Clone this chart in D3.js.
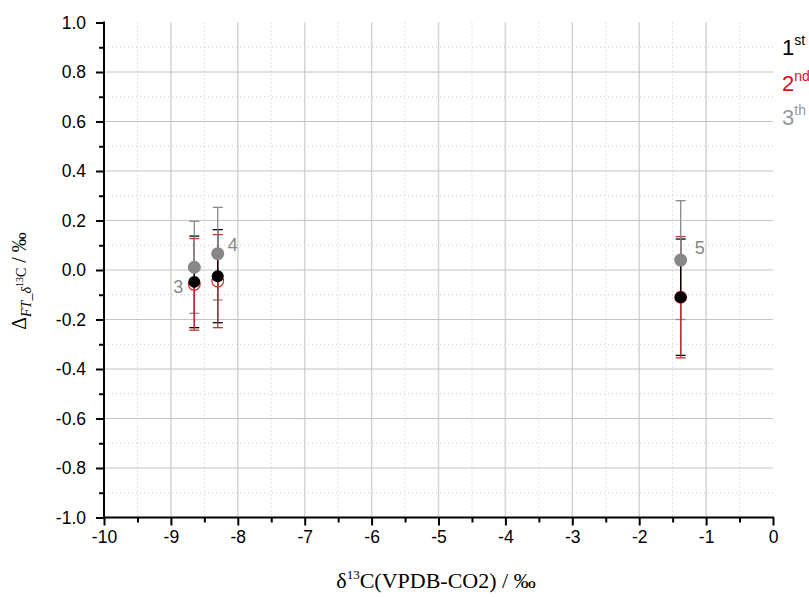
<!DOCTYPE html>
<html><head><meta charset="utf-8">
<script src="https://cdn.jsdelivr.net/npm/d3@7"></script>
<style>body{margin:0;background:#fff}svg{display:block}</style>
</head><body>
<svg id="c" width="809" height="597"></svg>
<script>
// ---- data ----
const pointLabels = ["3", "4", "5"];
const xVals = [-8.65, -8.30, -1.38];
const seriesNames = ["1", "2", "3"];
const seriesSups = ["st", "nd", "th"];
const s1 = [-0.048, -0.025, -0.11];
const e1 = [0.185, 0.188, 0.235];
const s2 = [-0.058, -0.045, -0.11];
const e2 = [0.185, 0.188, 0.245];
const s3 = [0.011, 0.066, 0.04];
const e3 = [0.186, 0.187, 0.24];
const xTicks = [-10, -9, -8, -7, -6, -5, -4, -3, -2, -1, 0];
const yTicks = [-1.0, -0.8, -0.6, -0.4, -0.2, 0.0, 0.2, 0.4, 0.6, 0.8, 1.0];

const W = 809, H = 597;
const L = 104, R = 773, T = 22.5, B = 517.5;
const svg = d3.select("#c");
const x = d3.scaleLinear().domain([-10, 0]).range([L, R]);
const y = d3.scaleLinear().domain([-1, 1]).range([B, T]);

const xMinor = d3.range(-9.5, 0, 1);
const yMinor = d3.range(-0.9, 1.0, 0.2).map(v => +v.toFixed(2));

// grid
const g = svg.append("g");
g.selectAll(".vmin").data(xMinor).join("line")
  .attr("x1", d => x(d)).attr("x2", d => x(d)).attr("y1", T).attr("y2", B)
  .attr("stroke", "#c8c8c8").attr("stroke-width", 1).attr("stroke-dasharray", "1,3");
g.selectAll(".hmin").data(yMinor).join("line")
  .attr("y1", d => y(d)).attr("y2", d => y(d)).attr("x1", L).attr("x2", R)
  .attr("stroke", "#c8c8c8").attr("stroke-width", 1).attr("stroke-dasharray", "1,3");
g.selectAll(".vmaj").data(xTicks.filter(d => d > -10 && d < 0)).join("line")
  .attr("x1", d => x(d)).attr("x2", d => x(d)).attr("y1", T).attr("y2", B)
  .attr("stroke", "#d4d4d4").attr("stroke-width", 1.5);
g.selectAll(".hmaj").data(yTicks.filter(d => d > -1 && d < 1)).join("line")
  .attr("y1", d => y(d)).attr("y2", d => y(d)).attr("x1", L).attr("x2", R)
  .attr("stroke", "#c4c4c4").attr("stroke-width", 1);

// axes
const fmtY = d => d3.format(".1f")(d).replace("−", "-");
const xAxis = d3.axisBottom(x).tickValues(xTicks).tickFormat(d => String(d)).tickSize(8).tickPadding(5);
const xAxisMinor = d3.axisBottom(x).tickValues(xMinor).tickFormat("").tickSize(5);
const yAxis = d3.axisLeft(y).tickValues(yTicks).tickFormat(fmtY).tickSize(8).tickPadding(10);
const yAxisMinor = d3.axisLeft(y).tickValues(yMinor).tickFormat("").tickSize(5);

function styleAxis(sel) {
  sel.select(".domain").remove();
  sel.selectAll("line").attr("stroke", "#000").attr("stroke-width", 2);
  sel.selectAll("text").attr("font-family", "Liberation Sans, Arial, sans-serif")
     .attr("font-size", 17.5).attr("fill", "#000");
}
svg.append("g").attr("transform", `translate(0,${B})`).call(xAxisMinor).call(styleAxis);
svg.append("g").attr("transform", `translate(0,${B})`).call(xAxis).call(styleAxis);
svg.append("g").attr("transform", `translate(${L},0)`).call(yAxisMinor).call(styleAxis);
svg.append("g").attr("transform", `translate(${L},0)`).call(yAxis).call(styleAxis);
svg.append("line").attr("x1", L).attr("x2", R + 1).attr("y1", B).attr("y2", B).attr("stroke", "#000").attr("stroke-width", 2);
svg.append("line").attr("x1", L).attr("x2", L).attr("y1", T - 1).attr("y2", B + 1).attr("stroke", "#000").attr("stroke-width", 2);

// error bars
const series = [
  {v: s3, e: e3, color: "#8a8a8a"},
  {v: s1, e: e1, color: "#000"},
  {v: s2, e: e2, color: "#c83232"}
];
const eb = svg.append("g");
series.forEach(s => {
  const data = xVals.map((xv, i) => ({x: xv, y: s.v[i], e: s.e[i]}));
  const gg = eb.append("g").attr("stroke", s.color).attr("stroke-width", 1.3);
  gg.selectAll(".v").data(data).join("line")
    .attr("x1", d => x(d.x)).attr("x2", d => x(d.x))
    .attr("y1", d => y(d.y)).attr("y2", d => y(d.y - d.e));
  gg.selectAll(".b").data(data).join("line")
    .attr("x1", d => x(d.x) - 5).attr("x2", d => x(d.x) + 5)
    .attr("y1", d => y(d.y - d.e)).attr("y2", d => y(d.y - d.e));
});
[...series].reverse().forEach(s => {
  const data = xVals.map((xv, i) => ({x: xv, y: s.v[i], e: s.e[i]}));
  const gg = eb.append("g").attr("stroke", s.color).attr("stroke-width", 1.3);
  gg.selectAll(".v").data(data).join("line")
    .attr("x1", d => x(d.x)).attr("x2", d => x(d.x))
    .attr("y1", d => y(d.y + d.e)).attr("y2", d => y(d.y));
  gg.selectAll(".t").data(data).join("line")
    .attr("x1", d => x(d.x) - 5).attr("x2", d => x(d.x) + 5)
    .attr("y1", d => y(d.y + d.e)).attr("y2", d => y(d.y + d.e));
});

// markers
const mk = svg.append("g");
mk.selectAll(".r").data(xVals.map((xv, i) => [xv, s2[i]])).join("circle")
  .attr("cx", d => x(d[0])).attr("cy", d => y(d[1])).attr("r", 5.8)
  .attr("fill", "none").attr("stroke", "#d42a2a").attr("stroke-width", 1.2);
mk.selectAll(".k").data(xVals.map((xv, i) => [xv, s1[i]])).join("circle")
  .attr("cx", d => x(d[0])).attr("cy", d => y(d[1])).attr("r", 6)
  .attr("fill", "#000");
mk.selectAll(".g").data(xVals.map((xv, i) => [xv, s3[i]])).join("circle")
  .attr("cx", d => x(d[0])).attr("cy", d => y(d[1])).attr("r", 6.5)
  .attr("fill", "#878787");

// point labels
const labOff = [[-16, 21], [15, -7], [19, -11]];
svg.selectAll(".pl").data(pointLabels).join("text")
  .attr("x", (d, i) => x(xVals[i]) + labOff[i][0])
  .attr("y", (d, i) => y(s3[i]) + labOff[i][1])
  .attr("text-anchor", "middle").attr("dominant-baseline", "middle")
  .attr("font-family", "Liberation Sans, Arial, sans-serif").attr("font-size", 18)
  .attr("fill", "#888").text(d => d);

// legend (text only)
const legColors = ["#000", "#e01010", "#999"];
const legY = [55, 91, 125];
seriesNames.forEach((n, i) => {
  const t = svg.append("text").attr("x", 782).attr("y", legY[i])
    .attr("font-family", "Liberation Sans, Arial, sans-serif").attr("font-size", 22)
    .attr("fill", legColors[i]);
  t.append("tspan").text(n);
  t.append("tspan").attr("font-size", 14).attr("dy", -10).text(seriesSups[i]);
});

// axis titles
const serif = "Liberation Serif, Times New Roman, serif";
const xt = svg.append("text").attr("x", 436).attr("y", 588).attr("text-anchor", "middle")
  .attr("font-family", serif).attr("font-size", 22).attr("fill", "#000");
xt.append("tspan").text("δ");
xt.append("tspan").attr("font-size", 13).attr("dy", -9).text("13");
xt.append("tspan").attr("dy", 9).text("C(VPDB-CO2) / ‰");

const yt = svg.append("text").attr("transform", "translate(26,281) rotate(-90)")
  .attr("text-anchor", "middle").attr("font-family", serif).attr("font-size", 20).attr("fill", "#000");
yt.append("tspan").text("Δ");
yt.append("tspan").attr("font-size", 14).attr("font-style", "italic").attr("dy", 5).text("FT_δ");
yt.append("tspan").attr("font-size", 10).attr("dy", -8).text("13");
yt.append("tspan").attr("font-size", 14).attr("dy", 3).text("C");
yt.append("tspan").attr("font-size", 20).attr("dy", 0).text(" / ‰");
</script>
</body></html>
